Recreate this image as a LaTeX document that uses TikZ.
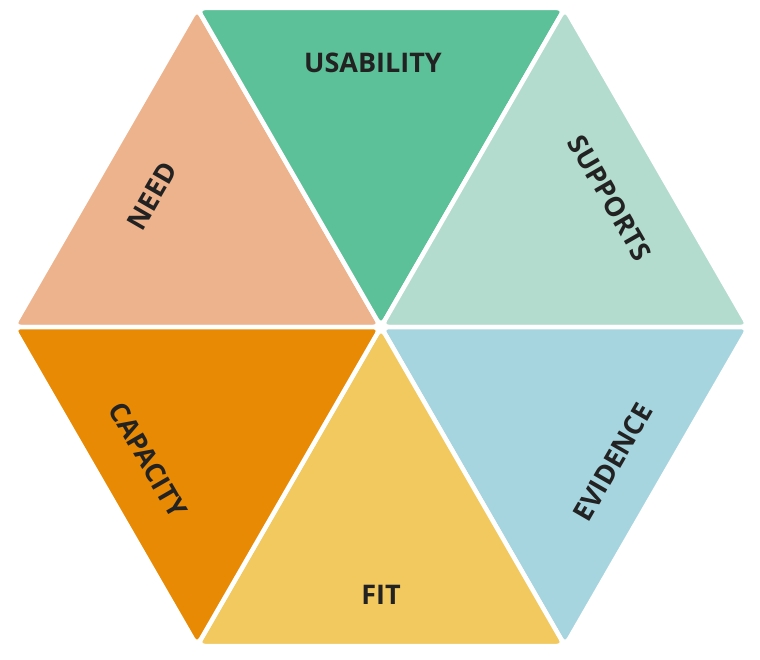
\documentclass[tikz,border=0pt]{standalone}
\usepackage{fontspec}
\setmainfont{Open Sans}
\definecolor{need}{HTML}{EDB38D}
\definecolor{usab}{HTML}{5CC198}
\definecolor{supp}{HTML}{B3DCCE}
\definecolor{capa}{HTML}{E88A04}
\definecolor{fitc}{HTML}{F2C95F}
\definecolor{evid}{HTML}{A6D5E0}
\definecolor{ink}{HTML}{222222}
\tikzset{
  tri/.style={draw=white, line width=4.5pt, rounded corners=8pt, line join=round},
  lbl/.style={font=\bfseries\fontsize{27}{27}\selectfont, text=ink}
}

\begin{document}
\begin{tikzpicture}[x=1pt, y=-1pt]
\useasboundingbox (0,0) rectangle (760,660);
% hexagon corners
\coordinate (c) at (381,327);
\coordinate (l) at (13,327);
\coordinate (tl) at (197,8);
\coordinate (tr) at (565,8);
\coordinate (r) at (749,327);
\coordinate (br) at (565,646);
\coordinate (bl) at (197,646);
% the six triangles
\foreach \p/\q/\col in {l/tl/need, tl/tr/usab, tr/r/supp, r/br/evid, br/bl/fitc, bl/l/capa}
  \filldraw[tri, fill=\col] (c) -- (\p) -- (\q) -- cycle;
% labels
\node[lbl] (usability) at (373,63) {USABILITY};
\node[lbl, rotate=60] (need) at (152,196) {NEED};
\node[lbl, rotate=-60] (supports) at (610,198) {SUPPORTS};
\node[lbl, rotate=-60] (capacity) at (148,460) {CAPACITY};
\node[lbl, rotate=60] (evidence) at (613,462) {EVIDENCE};
\node[lbl] (fit) at (381,595) {FIT};
\end{tikzpicture}
\end{document}
